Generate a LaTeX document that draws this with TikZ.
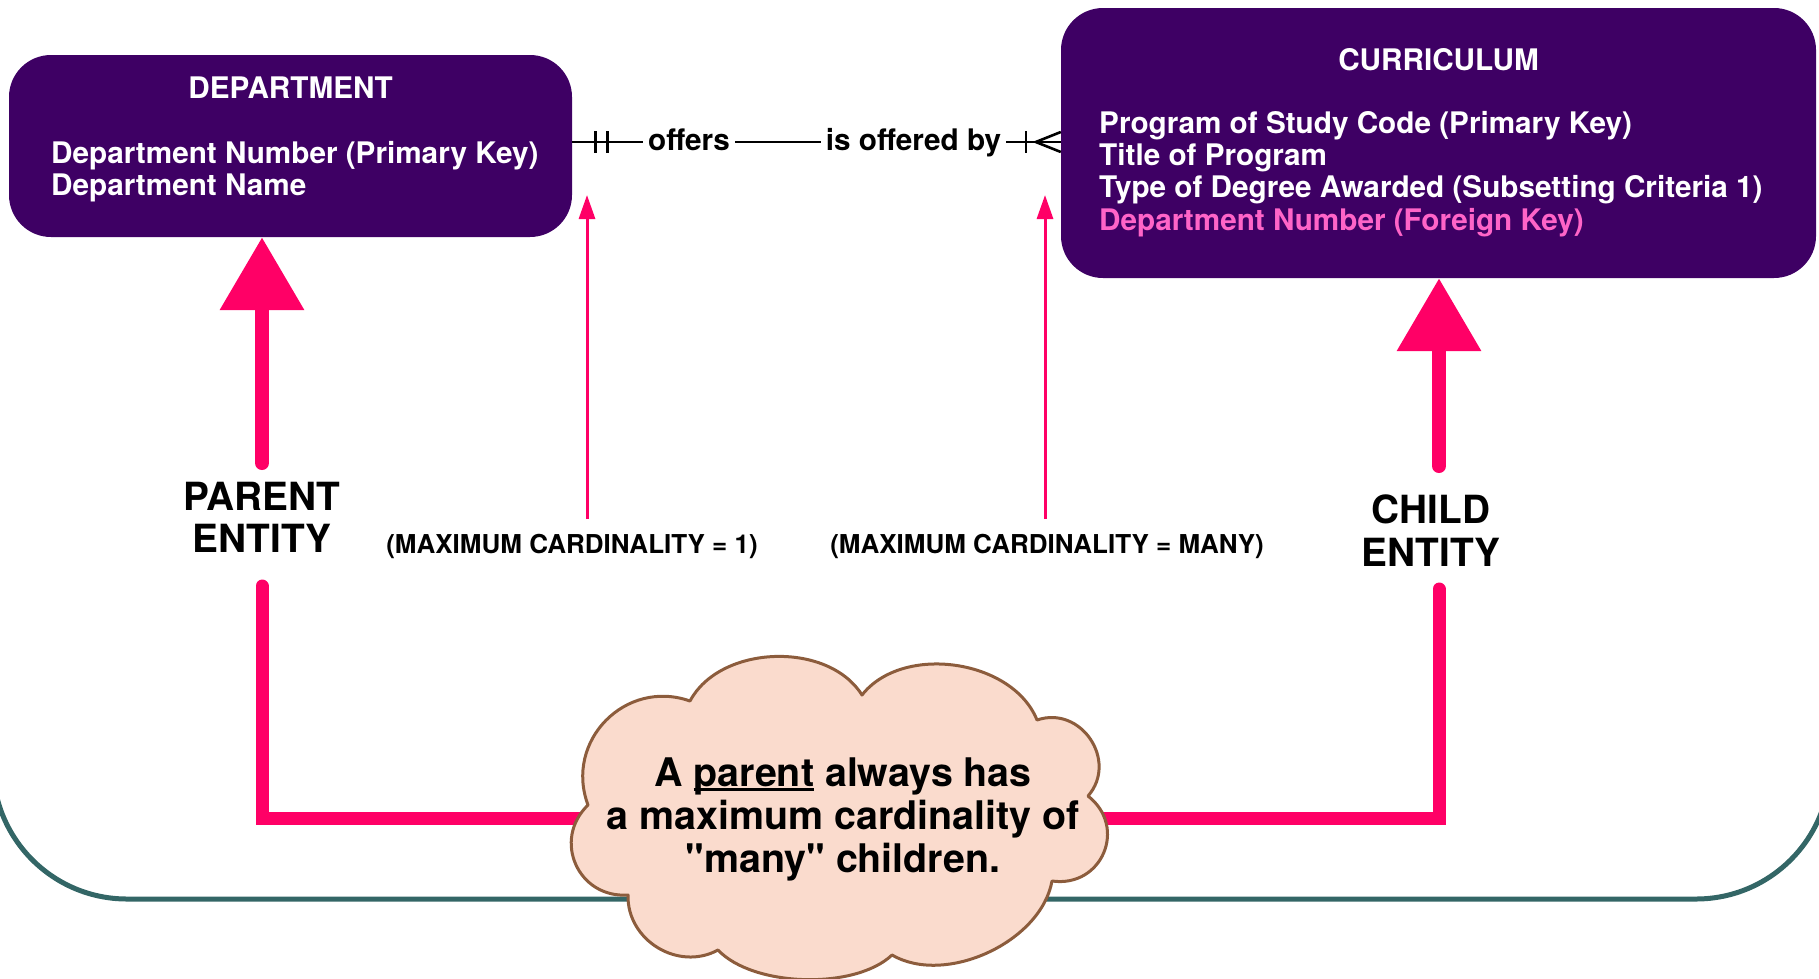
\documentclass[tikz,border=0pt]{standalone}
\usepackage{fontspec}
\setmainfont{TeX Gyre Heros}
\usetikzlibrary{arrows.meta}

\definecolor{entity}{RGB}{62,0,100}
\definecolor{hotpink}{RGB}{255,0,102}
\definecolor{fkpink}{RGB}{255,100,200}
\definecolor{framecol}{RGB}{51,102,102}
\definecolor{cloudfill}{RGB}{250,219,205}
\definecolor{cloudline}{RGB}{140,92,60}

% underline that sits just under the baseline
\newcommand\ulword[1]{\setbox0\hbox{#1}\rlap{\rule[-5pt]{\wd0}{2.6pt}}\box0\relax}

\begin{document}
\begin{tikzpicture}[x=1pt,y=-1pt,
  entitybox/.style={fill=entity, rounded corners=42pt, inner sep=0pt},
  attr/.style={text=white, font=\fontsize{29.7}{32}\selectfont\bfseries, inner sep=0pt},
  rel/.style={font=\fontsize{29.7}{32}\selectfont\bfseries, text height=20pt, text depth=4pt, inner xsep=5pt, inner ysep=0pt},
  relline/.style={draw=black, line width=2.6pt},
  bigarrow/.style={draw=hotpink, line width=14pt, line cap=round, -{Triangle[length=73pt,width=81pt]}},
  thinarrow/.style={draw=hotpink, line width=3pt, -{Triangle[length=24pt,width=16pt]}},
  elbow/.style={draw=hotpink, line width=13pt, line cap=round, line join=miter},
  roletext/.style={font=\fontsize{38.8}{42}\selectfont\bfseries, inner sep=0pt},
  cardtext/.style={font=\fontsize{26}{28}\selectfont\bfseries, inner sep=0pt},
  notetext/.style={font=\fontsize{39.4}{43}\selectfont\bfseries, inner sep=0pt},
  cloudshape/.style={fill=cloudfill, draw=cloudline, line width=3pt, line join=round}
]
\useasboundingbox (0,0) rectangle (1819,978);
\clip (0,0) rectangle (1819,978);

% outer slide frame
\draw[framecol, line width=5pt, rounded corners=134pt] (-7,-300) rectangle (1830,899);

% entities
\node[entitybox, minimum width=563pt, minimum height=182pt] (dept) at (290.5,146) {};
\node[attr, anchor=base] (depttitle) at (290.5,98) {DEPARTMENT};
\node[attr, anchor=base west] (deptkey) at (51,163) {Department Number (Primary Key)};
\node[attr, anchor=base west] (deptname) at (51,195) {Department Name};

\node[entitybox, minimum width=755pt, minimum height=270pt] (curr) at (1438.5,143) {};
\node[attr, anchor=base] (currtitle) at (1438.5,70) {CURRICULUM};
\node[attr, anchor=base west] (currkey) at (1099,133) {Program of Study Code (Primary Key)};
\node[attr, anchor=base west] (currtitleattr) at (1099,165) {Title of Program};
\node[attr, anchor=base west] (currtype) at (1099,197) {Type of Degree Awarded (Subsetting Criteria 1)};
\node[attr, anchor=base west, text=fkpink] (currfk) at (1099,230) {Department Number (Foreign Key)};

% relationship
\node[rel] (offers) at (689,142) {offers};
\node[rel] (isoff) at (913.5,142) {is offered by};
\draw[relline] (dept.east |- offers) -- (offers);
\draw[relline] (offers) -- (isoff);
\draw[relline] (isoff) -- (curr.west |- isoff);
% one and only one
\draw[relline] (dept.east |- offers) ++(23,-11) -- ++(0,22);
\draw[relline] (dept.east |- offers) ++(35,-11) -- ++(0,22);
% one or many
\draw[relline] (curr.west |- isoff) ++(-35,-11) -- ++(0,22);
\draw[relline] (curr.west |- isoff) ++(0,-10) -- ++(-25,10) -- ++(25,10);

% role labels and their arrows
\node[roletext, anchor=base] (parentA) at (262,510) {PARENT};
\node[roletext, anchor=base] (parentB) at (262,552) {ENTITY};
\node[roletext, anchor=base] (childA) at (1431,523) {CHILD};
\node[roletext, anchor=base] (childB) at (1431,566) {ENTITY};

\coordinate (pfoot) at (262,463);
\coordinate (cfoot) at (1439,466);
\draw[bigarrow] (pfoot) -- (pfoot |- dept.south);
\draw[bigarrow] (cfoot) -- (cfoot |- curr.south);

% cardinality labels
\node[cardtext, anchor=base] (maxone) at (572,553) {(MAXIMUM CARDINALITY = 1)};
\node[cardtext, anchor=base] (maxmany) at (1047,553) {(MAXIMUM CARDINALITY = MANY)};
\coordinate (onefoot) at (587,519);
\coordinate (onetip) at (587,195);
\coordinate (manyfoot) at (1045,519);
\coordinate (manytip) at (1045,195);
\draw[thinarrow] (onefoot) -- (onetip);
\draw[thinarrow] (manyfoot) -- (manytip);

% elbows into the note
\coordinate (pbottom) at (262,586);
\coordinate (cbottom) at (1439,589);
\coordinate (notewest) at (620,818);
\coordinate (noteeast) at (1070,818);
\draw[elbow] (pbottom) |- (notewest);
\draw[elbow] (cbottom) |- (noteeast);

% note cloud
\path[cloudshape] (690,701)
  to[bend left=60, looseness=0.95] (862,695)
  to[bend left=60, looseness=0.95] (1037,720)
  to[bend left=75, looseness=1.3] (1088,796)
  to[bend left=75, looseness=1.4] (1052,881)
  to[bend left=55, looseness=0.9] (892,955)
  to[bend left=45, looseness=0.75] (718,950)
  to[bend left=60, looseness=1.1] (628,895)
  to[bend left=70, looseness=1.3] (588,805)
  to[bend left=65, looseness=1.2] (690,701) -- cycle;

\node[notetext, anchor=base] (noteA) at (843,786) {A \ulword{parent} always has};
\node[notetext, anchor=base] (noteB) at (843,829) {a maximum cardinality of};
\node[notetext, anchor=base] (noteC) at (843,872) {\textquotedbl many\textquotedbl{} children.};
\end{tikzpicture}
\end{document}
